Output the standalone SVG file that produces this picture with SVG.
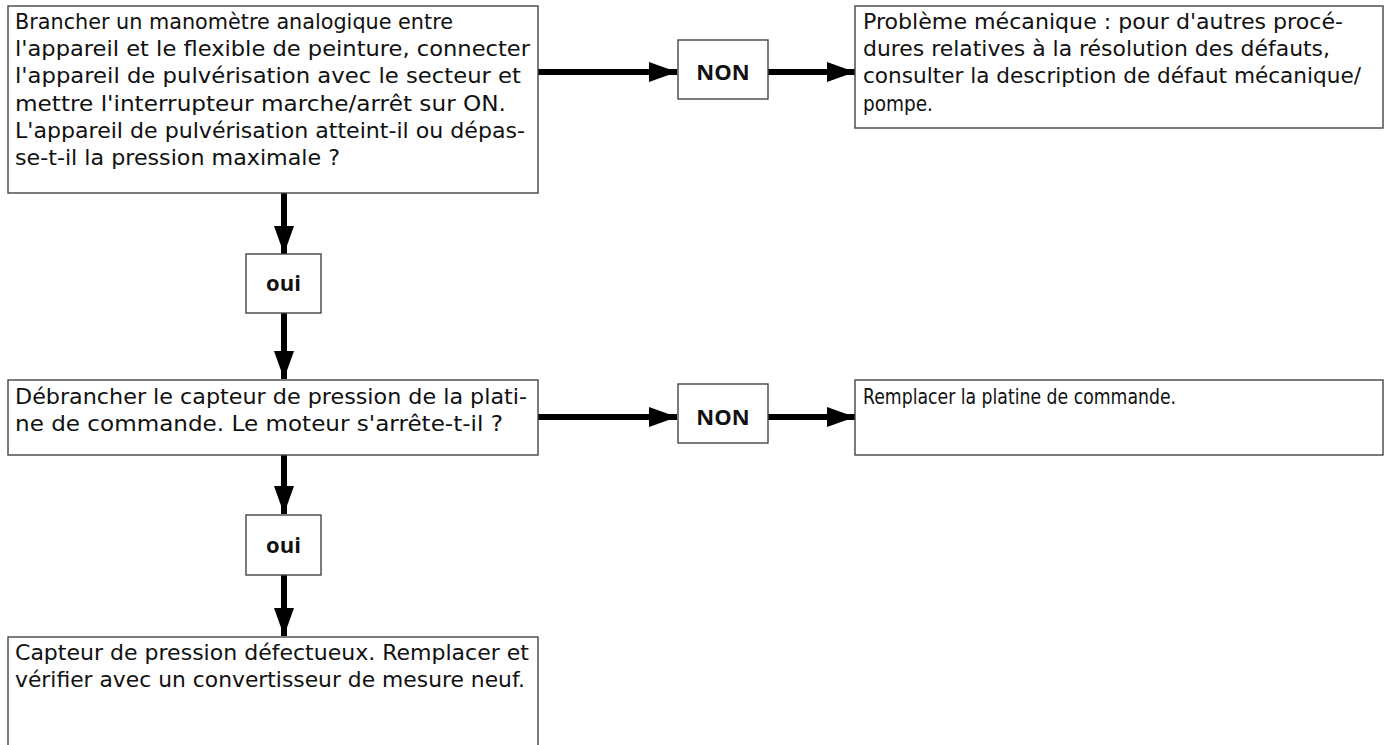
<svg xmlns="http://www.w3.org/2000/svg" width="1389" height="745" viewBox="0 0 1389 745">
<defs>
<style>
.box{fill:#fff;stroke:#444;stroke-width:1.4}
.t{font-family:"DejaVu Sans","Liberation Sans",sans-serif;font-size:20.5px;fill:#111}
.lbl{font-family:"Open Sans","DejaVu Sans",sans-serif;font-size:22px;font-weight:bold;fill:#111;text-anchor:middle}
.c{stroke:#000;stroke-width:6;fill:none}
</style>
<marker id="ah" markerUnits="userSpaceOnUse" markerWidth="28" markerHeight="20" refX="28" refY="10" orient="auto">
<path d="M0,0 L28,10 L0,20 Z" fill="#000"/>
</marker>
</defs>
<rect width="1389" height="745" fill="#fff"/>
<g id="connectors">
<line class="c" x1="538" y1="72" x2="677" y2="72" marker-end="url(#ah)"/>
<line class="c" x1="768" y1="72" x2="855" y2="72" marker-end="url(#ah)"/>
<line class="c" x1="284" y1="193" x2="284" y2="254" marker-end="url(#ah)"/>
<line class="c" x1="284" y1="313" x2="284" y2="379" marker-end="url(#ah)"/>
<line class="c" x1="538" y1="417" x2="677" y2="417" marker-end="url(#ah)"/>
<line class="c" x1="768" y1="417" x2="855" y2="417" marker-end="url(#ah)"/>
<line class="c" x1="284" y1="455" x2="284" y2="514" marker-end="url(#ah)"/>
<line class="c" x1="284" y1="575" x2="284" y2="636" marker-end="url(#ah)"/>
</g>
<g id="n1">
<rect class="box" x="8" y="6" width="530" height="187"/>
<text class="t" x="15" y="29" textLength="438" lengthAdjust="spacingAndGlyphs">Brancher un manomètre analogique entre</text>
<text class="t" x="15" y="56" textLength="515" lengthAdjust="spacingAndGlyphs">l'appareil et le flexible de peinture, connecter</text>
<text class="t" x="15" y="83" textLength="506" lengthAdjust="spacingAndGlyphs">l'appareil de pulvérisation avec le secteur et</text>
<text class="t" x="15" y="111" textLength="491" lengthAdjust="spacingAndGlyphs">mettre l'interrupteur marche/arrêt sur ON.</text>
<text class="t" x="15" y="138" textLength="510" lengthAdjust="spacingAndGlyphs">L'appareil de pulvérisation atteint-il ou dépas-</text>
<text class="t" x="15" y="165" textLength="325" lengthAdjust="spacingAndGlyphs">se-t-il la pression maximale ?</text>
</g>
<g id="non1">
<rect class="box" x="678" y="40" width="90" height="59"/>
<text class="lbl" x="723" y="80">NON</text>
</g>
<g id="n2">
<rect class="box" x="855" y="6" width="528" height="122"/>
<text class="t" x="863" y="29" textLength="480" lengthAdjust="spacingAndGlyphs">Problème mécanique : pour d'autres procé-</text>
<text class="t" x="863" y="56" textLength="467" lengthAdjust="spacingAndGlyphs">dures relatives à la résolution des défauts,</text>
<text class="t" x="863" y="83" textLength="498" lengthAdjust="spacingAndGlyphs">consulter la description de défaut mécanique/</text>
<text class="t" x="863" y="111" textLength="70" lengthAdjust="spacingAndGlyphs">pompe.</text>
</g>
<g id="oui1">
<rect class="box" x="246" y="254" width="75" height="59"/>
<text class="lbl" x="283.5" y="291">oui</text>
</g>
<g id="n3">
<rect class="box" x="8" y="380" width="530" height="75"/>
<text class="t" x="15" y="404" textLength="512" lengthAdjust="spacingAndGlyphs">Débrancher le capteur de pression de la plati-</text>
<text class="t" x="15" y="431" textLength="488" lengthAdjust="spacingAndGlyphs">ne de commande. Le moteur s'arrête-t-il ?</text>
</g>
<g id="non2">
<rect class="box" x="678" y="384" width="90" height="59"/>
<text class="lbl" x="723" y="425">NON</text>
</g>
<g id="n4">
<rect class="box" x="855" y="380" width="528" height="75"/>
<text class="t" x="863" y="404" textLength="313" lengthAdjust="spacingAndGlyphs">Remplacer la platine de commande.</text>
</g>
<g id="oui2">
<rect class="box" x="246" y="515" width="75" height="60"/>
<text class="lbl" x="283.5" y="553">oui</text>
</g>
<g id="n5">
<rect class="box" x="8" y="637" width="530" height="120"/>
<text class="t" x="15" y="660" textLength="514" lengthAdjust="spacingAndGlyphs">Capteur de pression défectueux. Remplacer et</text>
<text class="t" x="15" y="687" textLength="510" lengthAdjust="spacingAndGlyphs">vérifier avec un convertisseur de mesure neuf.</text>
</g>
</svg>
